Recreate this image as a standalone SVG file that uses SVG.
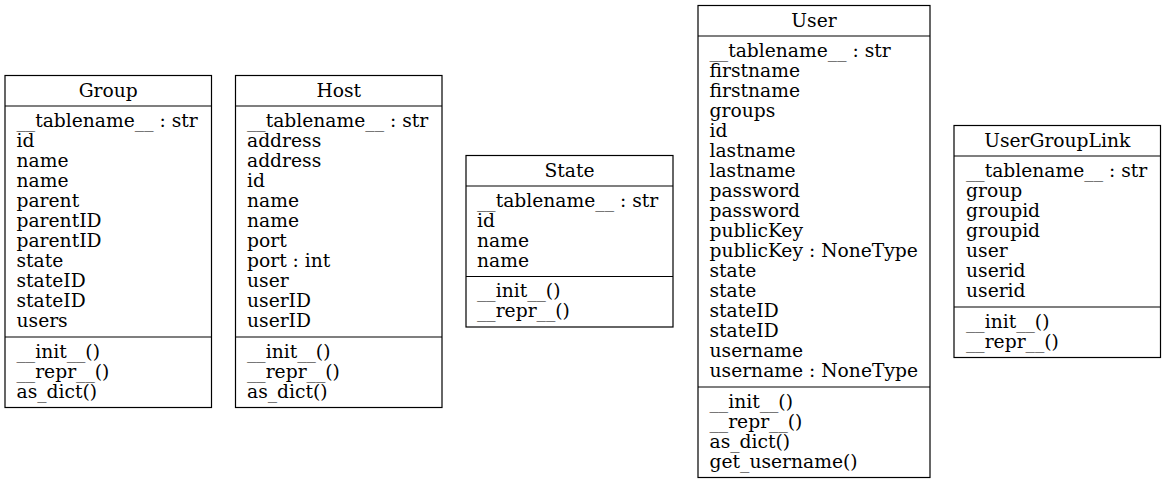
<svg xmlns="http://www.w3.org/2000/svg" width="1167" height="484" viewBox="0 0 1167 484">
<style>
rect.box{fill:#fff;stroke:#000;stroke-width:1.2}
line.div{stroke:#000;stroke-width:1.2}
text{font-family:"DejaVu Serif",serif;font-size:18.7px;fill:#000}
text.t{text-anchor:middle}
</style>
<rect width="1167" height="484" fill="#fff"/>
<g id="Group">
<rect class="box" x="5" y="75.5" width="206.5" height="332"/>
<line class="div" x1="5" y1="106" x2="211.5" y2="106"/>
<line class="div" x1="5" y1="337" x2="211.5" y2="337"/>
<text class="t" x="108.25" y="96.7">Group</text>
<text x="16.5" y="126.7">__tablename__ : str</text>
<text x="16.5" y="146.7">id</text>
<text x="16.5" y="166.7">name</text>
<text x="16.5" y="186.7">name</text>
<text x="16.5" y="206.7">parent</text>
<text x="16.5" y="226.7">parentID</text>
<text x="16.5" y="246.7">parentID</text>
<text x="16.5" y="266.7">state</text>
<text x="16.5" y="286.7">stateID</text>
<text x="16.5" y="306.7">stateID</text>
<text x="16.5" y="326.7">users</text>
<text x="16.5" y="357.7">__init__()</text>
<text x="16.5" y="377.7">__repr__()</text>
<text x="16.5" y="397.7">as_dict()</text>
</g>
<g id="Host">
<rect class="box" x="235.5" y="75.5" width="206.5" height="332"/>
<line class="div" x1="235.5" y1="106" x2="442" y2="106"/>
<line class="div" x1="235.5" y1="337" x2="442" y2="337"/>
<text class="t" x="338.75" y="96.7">Host</text>
<text x="247" y="126.7">__tablename__ : str</text>
<text x="247" y="146.7">address</text>
<text x="247" y="166.7">address</text>
<text x="247" y="186.7">id</text>
<text x="247" y="206.7">name</text>
<text x="247" y="226.7">name</text>
<text x="247" y="246.7">port</text>
<text x="247" y="266.7">port : int</text>
<text x="247" y="286.7">user</text>
<text x="247" y="306.7">userID</text>
<text x="247" y="326.7">userID</text>
<text x="247" y="357.7">__init__()</text>
<text x="247" y="377.7">__repr__()</text>
<text x="247" y="397.7">as_dict()</text>
</g>
<g id="State">
<rect class="box" x="466" y="155.5" width="207" height="171.5"/>
<line class="div" x1="466" y1="186" x2="673" y2="186"/>
<line class="div" x1="466" y1="276.5" x2="673" y2="276.5"/>
<text class="t" x="569.5" y="176.7">State</text>
<text x="477" y="206.7">__tablename__ : str</text>
<text x="477" y="226.7">id</text>
<text x="477" y="246.7">name</text>
<text x="477" y="266.7">name</text>
<text x="477" y="297.2">__init__()</text>
<text x="477" y="317.2">__repr__()</text>
</g>
<g id="User">
<rect class="box" x="698" y="5.5" width="232" height="472"/>
<line class="div" x1="698" y1="36" x2="930" y2="36"/>
<line class="div" x1="698" y1="387" x2="930" y2="387"/>
<text class="t" x="814" y="26.7">User</text>
<text x="709.5" y="56.7">__tablename__ : str</text>
<text x="709.5" y="76.7">firstname</text>
<text x="709.5" y="96.7">firstname</text>
<text x="709.5" y="116.7">groups</text>
<text x="709.5" y="136.7">id</text>
<text x="709.5" y="156.7">lastname</text>
<text x="709.5" y="176.7">lastname</text>
<text x="709.5" y="196.7">password</text>
<text x="709.5" y="216.7">password</text>
<text x="709.5" y="236.7">publicKey</text>
<text x="709.5" y="256.7">publicKey : NoneType</text>
<text x="709.5" y="276.7">state</text>
<text x="709.5" y="296.7">state</text>
<text x="709.5" y="316.7">stateID</text>
<text x="709.5" y="336.7">stateID</text>
<text x="709.5" y="356.7">username</text>
<text x="709.5" y="376.7">username : NoneType</text>
<text x="709.5" y="407.7">__init__()</text>
<text x="709.5" y="427.7">__repr__()</text>
<text x="709.5" y="447.7">as_dict()</text>
<text x="709.5" y="467.7">get_username()</text>
</g>
<g id="UserGroupLink">
<rect class="box" x="954" y="125.5" width="206.5" height="232"/>
<line class="div" x1="954" y1="156" x2="1160.5" y2="156"/>
<line class="div" x1="954" y1="307" x2="1160.5" y2="307"/>
<text class="t" x="1057.25" y="146.7">UserGroupLink</text>
<text x="966" y="176.7">__tablename__ : str</text>
<text x="966" y="196.7">group</text>
<text x="966" y="216.7">groupid</text>
<text x="966" y="236.7">groupid</text>
<text x="966" y="256.7">user</text>
<text x="966" y="276.7">userid</text>
<text x="966" y="296.7">userid</text>
<text x="966" y="327.7">__init__()</text>
<text x="966" y="347.7">__repr__()</text>
</g>
<g id="connectors"/>
</svg>
